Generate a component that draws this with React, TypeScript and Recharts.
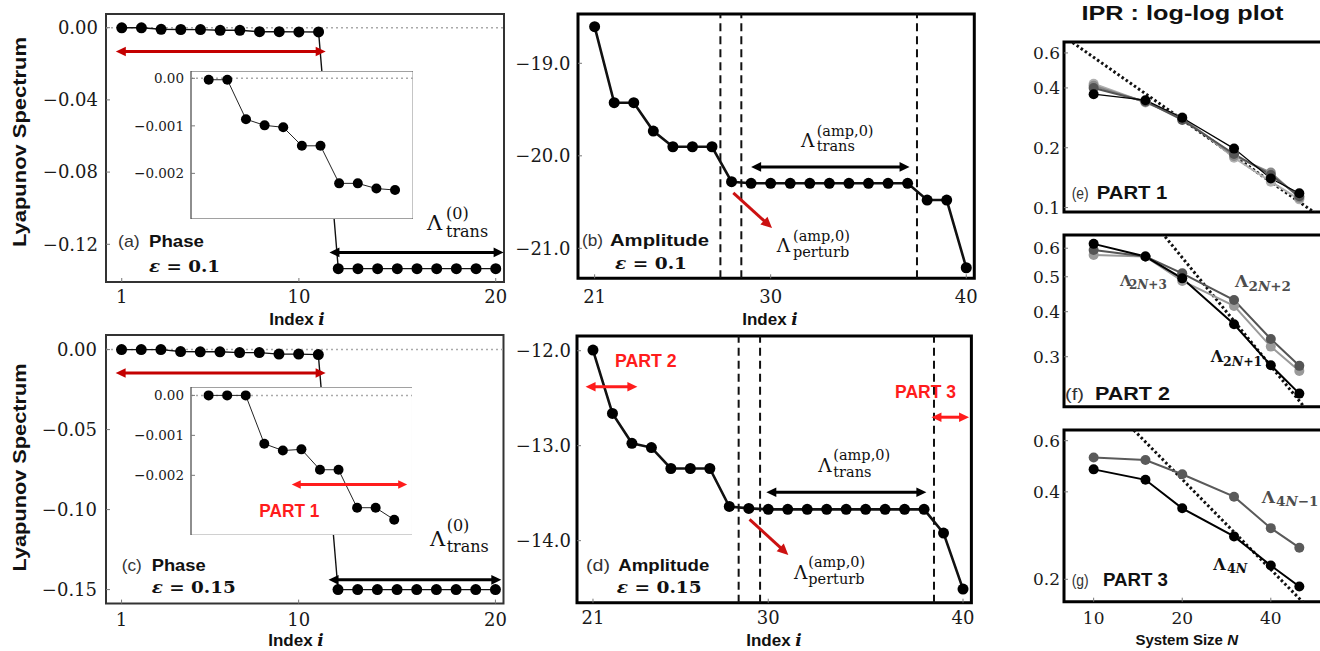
import React from "react";
import { LineChart, Line, XAxis, YAxis, ReferenceLine, ReferenceArea } from "recharts";

const SERIF = "'DejaVu Serif', serif";
const SANS = "'Liberation Sans', Arial, sans-serif";
const MINUS = "\u2212";

// ---- Lyapunov spectrum, phase part (index 1..20) ----
const phaseIndex = [1, 2, 3, 4, 5, 6, 7, 8, 9, 10, 11, 12, 13, 14, 15, 16, 17, 18, 19, 20];
const phaseEps010 = [
  -0.00003, -0.00003, -0.00086, -0.00099, -0.00103, -0.00142, -0.00142, -0.00221, -0.00221, -0.00232,
  -0.00235, -0.1335, -0.1335, -0.1335, -0.1335, -0.1335, -0.1335, -0.1335, -0.1335, -0.1335,
];
const phaseEps015 = [
  0, 0, 0, -0.00121, -0.00138, -0.00135, -0.00186, -0.00186, -0.00281, -0.00281,
  -0.00311, -0.15, -0.15, -0.15, -0.15, -0.15, -0.15, -0.15, -0.15, -0.15,
];
const insetCount = 11;

// ---- Lyapunov spectrum, amplitude part (index 21..40) ----
const amplitudeIndex = [21, 22, 23, 24, 25, 26, 27, 28, 29, 30, 31, 32, 33, 34, 35, 36, 37, 38, 39, 40];
const amplitudeEps010 = [
  -18.604, -19.426, -19.426, -19.732, -19.902, -19.902, -19.902, -20.28, -20.297, -20.297,
  -20.297, -20.297, -20.297, -20.297, -20.297, -20.297, -20.297, -20.478, -20.478, -21.21,
];
const amplitudeEps015 = [
  -11.993, -12.66, -12.975, -13.02, -13.24, -13.24, -13.24, -13.64, -13.66, -13.67,
  -13.67, -13.67, -13.67, -13.67, -13.67, -13.67, -13.67, -13.67, -13.92, -14.51,
];
const cutsEps010 = [27.43, 28.5, 37.48];
const cutsEps015 = [28.48, 29.58, 38.51];

// ---- IPR vs system size ----
const systemSizes = [10, 15, 20, 30, 40, 50];
const part1Black = [0.372, 0.347, 0.283, 0.198, 0.14, 0.118];
const part1Dark = [0.4, 0.342, 0.276, 0.186, 0.146, 0.114];
const part1Mid = [0.41, 0.34, 0.28, 0.182, 0.15, 0.112];
const part1Light = [0.42, 0.338, 0.285, 0.178, 0.135, 0.11];
const part2Lam1 = [0.617, 0.569, 0.495, 0.369, 0.284, 0.237];
const part2Lam2 = [0.593, 0.569, 0.511, 0.431, 0.336, 0.283];
const part2Lam3 = [0.575, 0.569, 0.487, 0.415, 0.32, 0.274];
const part3Lam4N = [0.478, 0.44, 0.351, 0.281, 0.223, 0.189];
const part3Lam4N1 = [0.525, 0.515, 0.46, 0.385, 0.3, 0.257];
// dotted ~1/N guides (end points)
const guide1Sizes = [7, 70];
const guide1Values = [0.827, 0.0752];
const guide2Sizes = [14, 70];
const guide2Values = [0.807, 0.1616];
const guide3Sizes = [11, 70];
const guide3Values = [0.818, 0.1214];

const pts = (xs: number[], ys: number[]) => xs.map((x, i) => ({ x, y: ys[i] }));

const phase010 = pts(phaseIndex, phaseEps010);
const phase015 = pts(phaseIndex, phaseEps015);
const inset010 = phase010.slice(0, insetCount);
const inset015 = phase015.slice(0, insetCount);
const amp010 = pts(amplitudeIndex, amplitudeEps010);
const amp015 = pts(amplitudeIndex, amplitudeEps015);

type Cfg = {
  left: number; top: number; right: number; bottom: number;
  yw: number; xh: number;
  xDomain: [number, number]; yDomain: [number, number];
  xTicks: number[]; yTicks: number[];
  yFmt: (v: number) => string;
  xGap: number; yGap: number; font: number;
  log?: boolean; frame: string; frameW: number; bg?: string; noXLabels?: boolean;
  pad?: number;
};

const Panel = ({ cfg, children }: { cfg: Cfg; children?: React.ReactNode }) => {
  const pad = cfg.pad ?? 14;
  const w = cfg.right - cfg.left + cfg.yw + pad;
  const h = cfg.bottom - cfg.top + cfg.xh + 2 * pad;
  const tick = { fontFamily: SERIF, fontSize: cfg.font, fill: "#1a1a1a" };
  const sc = cfg.log ? "log" : "linear";
  return (
    <div style={{ position: "absolute", left: cfg.left - cfg.yw, top: cfg.top - pad, width: w, height: h, background: cfg.bg }}>
      <LineChart width={w} height={h} margin={{ top: pad, right: pad, bottom: pad, left: 0 }}>
        <XAxis dataKey="x" type="number" scale={sc} domain={cfg.xDomain} ticks={cfg.xTicks} interval={0}
          allowDataOverflow height={cfg.xh} axisLine={false} tickSize={-4} tickMargin={cfg.xGap + 4}
          tickLine={{ stroke: "#777" }} tick={cfg.noXLabels ? false : tick} />
        <YAxis type="number" scale={sc} domain={cfg.yDomain} ticks={cfg.yTicks} interval={0}
          allowDataOverflow width={cfg.yw} axisLine={false} tickSize={-4} tickMargin={cfg.yGap + 4}
          tickLine={{ stroke: "#777" }} tick={tick} tickFormatter={cfg.yFmt} />
        {children}
        <ReferenceArea x1={cfg.xDomain[0]} x2={cfg.xDomain[1]} y1={cfg.yDomain[0]} y2={cfg.yDomain[1]}
          fill="none" fillOpacity={0} stroke={cfg.frame} strokeWidth={cfg.frameW} ifOverflow="visible" />
      </LineChart>
    </div>
  );
};

const arrowShape = (color: string, sw: number, head: number, both: boolean) => (p: any) => {
  const x1 = Number(p.x1), y1 = Number(p.y1), x2 = Number(p.x2), y2 = Number(p.y2);
  const a = Math.atan2(y2 - y1, x2 - x1);
  const c = Math.cos(a), s = Math.sin(a);
  const hw = head * 0.48;
  const tip = (x: number, y: number, dir: number) => {
    const bx = x - dir * head * c, by = y - dir * head * s;
    return `${x},${y} ${bx - hw * s},${by + hw * c} ${bx + hw * s},${by - hw * c}`;
  };
  return (
    <g>
      <line x1={both ? x1 + head * 0.7 * c : x1} y1={both ? y1 + head * 0.7 * s : y1}
        x2={x2 - head * 0.7 * c} y2={y2 - head * 0.7 * s} stroke={color} strokeWidth={sw} />
      <polygon points={tip(x2, y2, 1)} fill={color} />
      {both && <polygon points={tip(x1, y1, -1)} fill={color} />}
    </g>
  );
};

const hArrow = (y: number, xa: number, xb: number, color: string, sw = 3, head = 10) => (
  <ReferenceLine segment={[{ x: xa, y }, { x: xb, y }]} ifOverflow="visible" shape={arrowShape(color, sw, head, true)} />
);

const fmt2 = (v: number) => (v === 0 ? "0.00" : MINUS + Math.abs(v).toFixed(2));
const fmt3 = (v: number) => (v === 0 ? "0.00" : MINUS + Math.abs(v).toFixed(3));
const fmt1n = (v: number) => MINUS + Math.abs(v).toFixed(1);
const fmt1 = (v: number) => v.toFixed(1);

const DARK_RED = "#c40000";
const RED = "#ff1c1c";
const bigDot = { r: 5.5, fill: "#000", stroke: "#000", strokeWidth: 0 };
const insetDot = { r: 5, fill: "#000", stroke: "#000", strokeWidth: 0 };
const ipDot = (c: string) => ({ r: 5, fill: c, stroke: c, strokeWidth: 0 });
const zeroLine = <ReferenceLine y={0} stroke="#aaa" strokeDasharray="2 3" strokeWidth={1.5} ifOverflow="visible" />;

const cfgA: Cfg = { left: 106, top: 14, right: 504, bottom: 282, yw: 100, xh: 40, xDomain: [0.2, 20.42], yDomain: [-0.1409, 0.0076], xTicks: [1, 10, 20], yTicks: [0, -0.04, -0.08, -0.12], yFmt: fmt2, xGap: 8, yGap: 8, font: 18, frame: "#333", frameW: 2 };
const cfgAi: Cfg = { left: 190.7, top: 71, right: 413, bottom: 219, yw: 60, xh: 0, xDomain: [0.05, 11.98], yDomain: [-0.00296, 0.000154], xTicks: [2, 4, 6, 8, 10], yTicks: [0, -0.001, -0.002], yFmt: fmt3, xGap: 0, yGap: 7, font: 13.5, frame: "#444", frameW: 1.2, bg: "#fff", noXLabels: true, pad: 0 };
const cfgB: Cfg = { left: 577.7, top: 14, right: 974, bottom: 278.3, yw: 70, xh: 40, xDomain: [20.15, 40.41], yDomain: [-21.324, -18.467], xTicks: [21, 30, 40], yTicks: [-19, -20, -21], yFmt: fmt1n, xGap: 12, yGap: 7.5, font: 18, frame: "#000", frameW: 3 };
const cfgC: Cfg = { left: 105.5, top: 334.7, right: 503, bottom: 603.3, yw: 100, xh: 40, xDomain: [0.21, 20.41], yDomain: [-0.15875, 0.00913], xTicks: [1, 10, 20], yTicks: [0, -0.05, -0.1, -0.15], yFmt: fmt2, xGap: 10, yGap: 9, font: 18, frame: "#333", frameW: 2 };
const cfgCi: Cfg = { left: 190.7, top: 386.7, right: 412.3, bottom: 535, yw: 60, xh: 0, xDomain: [0.052, 11.99], yDomain: [-0.0035, 0.00021], xTicks: [2, 4, 6, 8, 10], yTicks: [0, -0.001, -0.002], yFmt: fmt3, xGap: 0, yGap: 7, font: 13.5, frame: "#444", frameW: 1.2, bg: "#fff", noXLabels: true, pad: 0 };
const cfgD: Cfg = { left: 577.3, top: 336, right: 971.7, bottom: 602.7, yw: 70, xh: 40, xDomain: [20.18, 40.43], yDomain: [-14.653, -11.845], xTicks: [21, 30, 40], yTicks: [-12, -13, -14], yFmt: fmt1n, xGap: 9, yGap: 6, font: 18, frame: "#000", frameW: 3 };
const rightBase = { left: 1064, right: 1326, yw: 60, xDomain: [7.93, 61.6] as [number, number], xTicks: [10, 20, 40], yFmt: fmt1, xGap: 10, yGap: 4, font: 17, log: true, frame: "#000", frameW: 3 };
const cfgE: Cfg = { ...rightBase, top: 41.7, bottom: 211.7, xh: 0, yDomain: [0.095, 0.681], yTicks: [0.1, 0.2, 0.4, 0.6], noXLabels: true };
const cfgF: Cfg = { ...rightBase, top: 235, bottom: 406.7, xh: 0, yDomain: [0.218, 0.653], yTicks: [0.3, 0.4, 0.5, 0.6], noXLabels: true };
const cfgG: Cfg = { ...rightBase, top: 430, bottom: 601.7, xh: 30, yDomain: [0.1675, 0.653], yTicks: [0.2, 0.4, 0.6] };

const guideLine = (xs: number[], ys: number[]) => (
  <Line data={pts(xs, ys)} dataKey="y" stroke="#111" strokeWidth={3} strokeDasharray="2.5 2.5" dot={false} isAnimationActive={false} />
);

const Lam = (p: { x: number; y: number; size: number; sx: number; sup?: string; supY?: number; sub?: React.ReactNode; subY?: number; subSize: number; fill?: string; bold?: boolean }) => (
  <text fontFamily={SERIF} fill={p.fill || "#111"} fontWeight={p.bold ? "bold" : "normal"}>
    <tspan x={p.x} y={p.y} fontSize={p.size}>Λ</tspan>
    {p.sup && <tspan x={p.sx} y={p.supY} fontSize={p.subSize}>{p.sup}</tspan>}
    {p.sub && <tspan x={p.sx} y={p.subY} fontSize={p.subSize}>{p.sub}</tspan>}
  </text>
);

const PanelTag = (p: { x: number; y: number; tag: string; tagLen: number; tagSize?: number; tx: number; word: string; len: number; size?: number }) => (
  <g>
    <text x={p.x} y={p.y} fontFamily={SANS} fontSize={p.tagSize || p.size || 17} fill="#333" textLength={p.tagLen} lengthAdjust="spacingAndGlyphs">{p.tag}</text>
    <text x={p.tx} y={p.y} fontFamily={SANS} fontSize={p.size || 17} fontWeight="bold" fill="#111" textLength={p.len} lengthAdjust="spacingAndGlyphs">{p.word}</text>
  </g>
);

const Eps = (p: { x: number; y: number; val: string; len: number }) => (
  <text x={p.x} y={p.y} fontFamily={SERIF} fontSize={17} fontWeight="bold" fill="#111" textLength={p.len} lengthAdjust="spacingAndGlyphs">
    <tspan fontStyle="italic">ε</tspan> = {p.val}
  </text>
);

const IndexLabel = (p: { x: number; y: number }) => (
  <text x={p.x} y={p.y} textAnchor="middle" fontFamily={SANS} fontSize={17} fontWeight="bold" fill="#111">
    Index <tspan fontFamily={SERIF} fontStyle="italic">i</tspan>
  </text>
);

export default function App() {
  return (
    <div style={{ position: "absolute", left: 0, top: 0, width: 1320, height: 651, overflow: "hidden", background: "#fff" }}>
      {/* (a) phase, eps 0.1 */}
      <Panel cfg={cfgA}>
        {zeroLine}
        <Line data={phase010} dataKey="y" stroke="#111" strokeWidth={1.4} dot={bigDot} isAnimationActive={false} />
        {hArrow(-0.0132, 0.7, 11.36, DARK_RED)}
        {hArrow(-0.1245, 11.55, 20.4, "#000")}
      </Panel>
      <Panel cfg={cfgAi}>
        {zeroLine}
        <Line data={inset010} dataKey="y" stroke="#222" strokeWidth={1} dot={insetDot} isAnimationActive={false} />
      </Panel>

      {/* (b) amplitude, eps 0.1 */}
      <Panel cfg={cfgB}>
        {cutsEps010.map((c) => (
          <ReferenceLine key={c} x={c} stroke="#111" strokeWidth={2} strokeDasharray="8 5" ifOverflow="visible" />
        ))}
        <Line data={amp010} dataKey="y" stroke="#111" strokeWidth={2.6} dot={bigDot} isAnimationActive={false} />
        {hArrow(-20.12, 29.0, 37.1, "#000")}
        <ReferenceLine segment={[{ x: 28.09, y: -20.4 }, { x: 30.07, y: -20.78 }]} ifOverflow="visible" shape={arrowShape("#cc1111", 3, 11, false)} />
      </Panel>

      {/* (c) phase, eps 0.15 */}
      <Panel cfg={cfgC}>
        {zeroLine}
        <Line data={phase015} dataKey="y" stroke="#111" strokeWidth={1.4} dot={bigDot} isAnimationActive={false} />
        {hArrow(-0.0146, 0.7, 11.37, DARK_RED)}
        {hArrow(-0.1439, 11.52, 20.3, "#000")}
      </Panel>
      <Panel cfg={cfgCi}>
        {zeroLine}
        <Line data={inset015} dataKey="y" stroke="#222" strokeWidth={1} dot={insetDot} isAnimationActive={false} />
        {hArrow(-0.00223, 5.48, 11.7, RED, 3, 9)}
      </Panel>

      {/* (d) amplitude, eps 0.15 */}
      <Panel cfg={cfgD}>
        {cutsEps015.map((c) => (
          <ReferenceLine key={c} x={c} stroke="#111" strokeWidth={2} strokeDasharray="8 5" ifOverflow="visible" />
        ))}
        <Line data={amp015} dataKey="y" stroke="#111" strokeWidth={2.6} dot={bigDot} isAnimationActive={false} />
        {hArrow(-13.49, 29.9, 38.12, "#000")}
        {hArrow(-12.38, 20.62, 23.28, RED)}
        {hArrow(-12.7, 38.38, 40.31, RED)}
        <ReferenceLine segment={[{ x: 29.04, y: -13.775 }, { x: 31.03, y: -14.15 }]} ifOverflow="visible" shape={arrowShape("#cc1111", 3, 11, false)} />
      </Panel>

      {/* (e) IPR part 1 */}
      <Panel cfg={cfgE}>
        {guideLine(guide1Sizes, guide1Values)}
        <Line data={pts(systemSizes, part1Light)} dataKey="y" stroke="#b0b0b0" strokeWidth={2} dot={ipDot("#b0b0b0")} isAnimationActive={false} />
        <Line data={pts(systemSizes, part1Mid)} dataKey="y" stroke="#8a8a8a" strokeWidth={2} dot={ipDot("#8a8a8a")} isAnimationActive={false} />
        <Line data={pts(systemSizes, part1Dark)} dataKey="y" stroke="#555" strokeWidth={2} dot={ipDot("#555")} isAnimationActive={false} />
        <Line data={pts(systemSizes, part1Black)} dataKey="y" stroke="#000" strokeWidth={1.2} dot={ipDot("#000")} isAnimationActive={false} />
      </Panel>

      {/* (f) IPR part 2 */}
      <Panel cfg={cfgF}>
        {guideLine(guide2Sizes, guide2Values)}
        <Line data={pts(systemSizes, part2Lam3)} dataKey="y" stroke="#9a9a9a" strokeWidth={2} dot={ipDot("#9a9a9a")} isAnimationActive={false} />
        <Line data={pts(systemSizes, part2Lam2)} dataKey="y" stroke="#555" strokeWidth={2} dot={ipDot("#555")} isAnimationActive={false} />
        <Line data={pts(systemSizes, part2Lam1)} dataKey="y" stroke="#000" strokeWidth={2} dot={ipDot("#000")} isAnimationActive={false} />
      </Panel>

      {/* (g) IPR part 3 */}
      <Panel cfg={cfgG}>
        {guideLine(guide3Sizes, guide3Values)}
        <Line data={pts(systemSizes, part3Lam4N1)} dataKey="y" stroke="#5a5a5a" strokeWidth={2} dot={ipDot("#5a5a5a")} isAnimationActive={false} />
        <Line data={pts(systemSizes, part3Lam4N)} dataKey="y" stroke="#000" strokeWidth={2} dot={ipDot("#000")} isAnimationActive={false} />
      </Panel>

      {/* text overlay */}
      <svg width={1320} height={651} style={{ position: "absolute", left: 0, top: 0, pointerEvents: "none" }}>
        <text x={1182.5} y={19.5} textAnchor="middle" fontFamily={SANS} fontSize={20} fontWeight="bold" fill="#111" textLength={202} lengthAdjust="spacingAndGlyphs">IPR : log-log plot</text>
        <text x={26} y={142} transform="rotate(-90 26 142)" textAnchor="middle" fontFamily={SANS} fontSize={19} fontWeight="bold" fill="#111" textLength={210} lengthAdjust="spacingAndGlyphs">Lyapunov Spectrum</text>
        <text x={25.5} y={467.5} transform="rotate(-90 25.5 467.5)" textAnchor="middle" fontFamily={SANS} fontSize={19} fontWeight="bold" fill="#111" textLength={208} lengthAdjust="spacingAndGlyphs">Lyapunov Spectrum</text>
        <IndexLabel x={297} y={325} />
        <IndexLabel x={770} y={325} />
        <IndexLabel x={296} y={646} />
        <IndexLabel x={774} y={646} />

        <PanelTag x={118} y={247} tag="(a)" tagLen={21.7} tx={149} word="Phase" len={55} />
        <Eps x={149} y={271.5} val="0.1" len={71} />
        <PanelTag x={582} y={245.5} tag="(b)" tagLen={21} tx={610} word="Amplitude" len={99} />
        <Eps x={615} y={268.5} val="0.1" len={72} />
        <PanelTag x={121.7} y={571} tag="(c)" tagLen={20} tx={151.7} word="Phase" len={54} />
        <Eps x={151.7} y={593} val="0.15" len={84} />
        <PanelTag x={586} y={571} tag="(d)" tagLen={24} tx={618.3} word="Amplitude" len={91} />
        <Eps x={616.7} y={593} val="0.15" len={85} />

        <Lam x={427} y={230} size={21} sx={446} sup="(0)" supY={218.5} sub="trans" subY={236.7} subSize={16} />
        <Lam x={430} y={546} size={21} sx={446.7} sup="(0)" supY={531} sub="trans" subY={551.7} subSize={16} />
        <Lam x={801} y={147.3} size={18.5} sx={816.7} sup="(amp,0)" supY={136.4} sub="trans" subY={150.7} subSize={14.5} />
        <Lam x={776.7} y={251.7} size={18.5} sx={793} sup="(amp,0)" supY={240.8} sub="perturb" subY={256.7} subSize={14.5} />
        <Lam x={818.3} y={471.7} size={18.5} sx={833.3} sup="(amp,0)" supY={459.8} sub="trans" subY={477.3} subSize={14.5} />
        <Lam x={794} y={579.3} size={18.5} sx={808.3} sup="(amp,0)" supY={567.4} sub="perturb" subY={583.5} subSize={14.5} />

        <text x={259.3} y={517} fontFamily={SANS} fontSize={18} fontWeight="bold" fill={RED} textLength={60} lengthAdjust="spacingAndGlyphs">PART 1</text>
        <text x={615} y={367} fontFamily={SANS} fontSize={18} fontWeight="bold" fill={RED} textLength={61.7} lengthAdjust="spacingAndGlyphs">PART 2</text>
        <text x={895} y={398} fontFamily={SANS} fontSize={18} fontWeight="bold" fill={RED} textLength={61} lengthAdjust="spacingAndGlyphs">PART 3</text>

        <PanelTag x={1071.7} y={199} tag="(e)" tagLen={17} tagSize={16} tx={1096.7} word="PART 1" len={70.7} size={19} />
        <PanelTag x={1065} y={400} tag="(f)" tagLen={19} tagSize={17} tx={1095} word="PART 2" len={75} size={19} />
        <PanelTag x={1071.7} y={586} tag="(g)" tagLen={17} tagSize={16} tx={1103} word="PART 3" len={65} size={19} />

        <Lam x={1120} y={285.7} size={15} sx={1129} sub={<>2<tspan fontStyle="italic">N</tspan>+3</>} subY={289} subSize={12} fill="#4d4d4d" bold />
        <Lam x={1235} y={287.3} size={17} sx={1248.5} sub={<>2<tspan fontStyle="italic">N</tspan>+2</>} subY={291} subSize={13.5} fill="#4d4d4d" bold />
        <Lam x={1210.7} y={362} size={16} sx={1223} sub={<>2<tspan fontStyle="italic">N</tspan>+1</>} subY={366} subSize={12.5} fill="#111" bold />
        <Lam x={1261.7} y={502.7} size={17} sx={1276} sub={<>4<tspan fontStyle="italic">N</tspan>−1</>} subY={506} subSize={13.5} fill="#4d4d4d" bold />
        <Lam x={1213.3} y={570} size={16} sx={1227} sub={<>4<tspan fontStyle="italic">N</tspan></>} subY={573} subSize={12.5} fill="#111" bold />

        <text x={1186.7} y={645} textAnchor="middle" fontFamily={SANS} fontSize={15} fontWeight="bold" fill="#111">
          System Size <tspan fontStyle="italic">N</tspan>
        </text>
      </svg>
    </div>
  );
}
